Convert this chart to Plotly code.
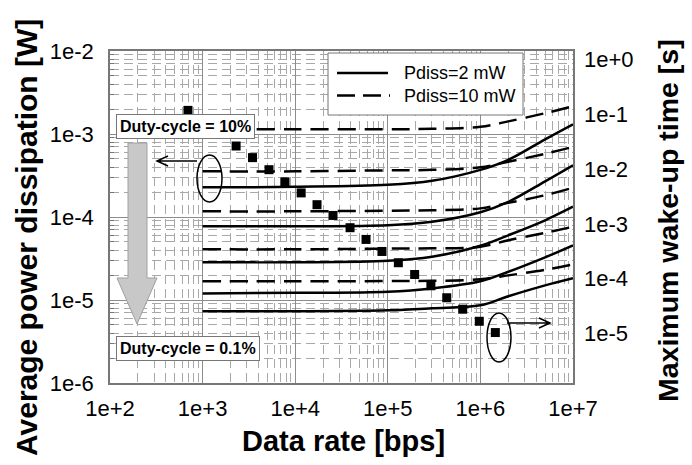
import plotly.graph_objects as go

# ---------------- data ----------------
data_rate = [1e3, 1e4, 1e5, 3e5, 1e6, 2e6, 5e6, 1e7]

# Pdiss = 2 mW (solid), duty cycles from 10% down to 0.1%
p2_dc10 = [2.28e-4, 2.31e-4, 2.44e-4, 2.73e-4, 3.70e-4, 4.89e-4, 8.63e-4, 1.31e-3]
p2_dc3 = [7.73e-5, 7.73e-5, 7.94e-5, 8.75e-5, 1.14e-4, 1.52e-4, 2.69e-4, 4.20e-4]
p2_dc1 = [2.85e-5, 2.85e-5, 2.97e-5, 3.32e-5, 4.50e-5, 6.02e-5, 9.13e-5, 1.33e-4]
p2_dc03 = [1.20e-5, 1.22e-5, 1.26e-5, 1.38e-5, 1.68e-5, 2.19e-5, 3.27e-5, 4.56e-5]
p2_dc01 = [7.31e-6, 7.31e-6, 7.50e-6, 7.94e-6, 8.63e-6, 1.11e-5, 1.50e-5, 1.83e-5]

# Pdiss = 10 mW (dashed)
p10_dc10 = [1.14e-3, 1.14e-3, 1.14e-3, 1.155e-3, 1.22e-3, 1.42e-3, 1.78e-3, 2.16e-3]
p10_dc3 = [3.55e-4, 3.55e-4, 3.65e-4, 3.70e-4, 3.97e-4, 4.63e-4, 5.77e-4, 7.01e-4]
p10_dc1 = [1.17e-4, 1.17e-4, 1.19e-4, 1.205e-4, 1.27e-4, 1.48e-4, 1.83e-4, 2.25e-4]
p10_dc03 = [4.08e-5, 4.08e-5, 4.16e-5, 4.20e-5, 4.38e-5, 5.24e-5, 6.45e-5, 7.62e-5]
p10_dc01 = [1.68e-5, 1.68e-5, 1.69e-5, 1.70e-5, 1.78e-5, 1.98e-5, 2.31e-5, 2.69e-5]

# Maximum wake-up time (squares, right axis)
wake_rate = [695, 2300, 3460, 5210, 7760, 11600, 17200, 25600, 39100, 58200,
             86500, 130000, 195000, 292000, 433000, 644000, 973000, 1450000]
wake_time = [0.117, 0.0262, 0.0161, 0.0097, 0.00582, 0.00366, 0.00223, 0.00142,
             0.000849, 0.000519, 0.000313, 0.000195, 0.000119, 7.41e-5, 4.48e-5,
             2.77e-5, 1.67e-5, 1.04e-5]

x_tickvals = [1e2, 1e3, 1e4, 1e5, 1e6, 1e7]
x_ticktext = ["1e+2", "1e+3", "1e+4", "1e+5", "1e+6", "1e+7"]
y_tickvals = [1e-6, 1e-5, 1e-4, 1e-3, 1e-2]
y_ticktext = ["1e-6", "1e-5", "1e-4", "1e-3", "1e-2"]
y2_tickvals = [1e-6, 1e-5, 1e-4, 1e-3, 1e-2, 1e-1, 1e0]
y2_ticktext = ["1e-6", "1e-5", "1e-4", "1e-3", "1e-2", "1e-1", "1e+0"]

solid_series = [p2_dc10, p2_dc3, p2_dc1, p2_dc03, p2_dc01]
dashed_series = [p10_dc10, p10_dc3, p10_dc1, p10_dc03, p10_dc01]

# ---------------- layout geometry ----------------
W, H = 692, 465
L, R, T, B = 110, 573, 51, 383
FONT = "Liberation Sans, Arial, sans-serif"


def px(X):
    return (X - L) / (R - L)


def py(Y):
    return (B - Y) / (B - T)


fig = go.Figure()

for s in dashed_series:
    fig.add_trace(go.Scatter(x=data_rate, y=s, mode="lines", showlegend=False,
                             line=dict(color="black", width=2.5, dash="18px,9px",
                                       shape="spline", smoothing=1.0)))
for s in solid_series:
    fig.add_trace(go.Scatter(x=data_rate, y=s, mode="lines", showlegend=False,
                             line=dict(color="black", width=2.5,
                                       shape="spline", smoothing=1.0)))

fig.add_trace(go.Scatter(x=wake_rate, y=wake_time, yaxis="y2", mode="markers",
                         showlegend=False,
                         marker=dict(symbol="square", size=9, color="black")))

x_minor = [m * 10 ** e for e in range(2, 7) for m in range(2, 10)]
y_minor = [m * 10.0 ** e for e in range(-6, -2) for m in range(2, 10)]

grid_major = "#8c8c8c"
grid_minor = "#a8a8a8"

shapes = []
# legend box
shapes.append(dict(type="rect", xref="paper", yref="paper", layer="above",
                   x0=px(328), x1=px(523), y0=py(115), y1=py(53),
                   fillcolor="white", line=dict(color="#777777", width=1)))
shapes.append(dict(type="line", xref="paper", yref="paper", layer="above",
                   x0=px(337), x1=px(388), y0=py(73), y1=py(73),
                   line=dict(color="black", width=2.5)))
shapes.append(dict(type="line", xref="paper", yref="paper", layer="above",
                   x0=px(337), x1=px(390), y0=py(95.5), y1=py(95.5),
                   line=dict(color="black", width=2.5, dash="18px,8px")))

# grey duty-cycle arrow
arrow_pts = [(128, 143), (147, 143), (147, 278), (157, 278), (137, 324),
             (117, 278), (128, 278)]
path = "M " + " L ".join(f"{px(a):.5f},{py(b):.5f}" for a, b in arrow_pts) + " Z"
shapes.append(dict(type="path", xref="paper", yref="paper", layer="above",
                   path=path, fillcolor="#c8c8c8",
                   line=dict(color="#a0a0a0", width=1)))

# ellipses
shapes.append(dict(type="circle", xref="paper", yref="paper", layer="above",
                   x0=px(197), x1=px(222), y0=py(202), y1=py(155),
                   line=dict(color="black", width=1.5)))
shapes.append(dict(type="circle", xref="paper", yref="paper", layer="above",
                   x0=px(487), x1=px(511), y0=py(362), y1=py(313),
                   line=dict(color="black", width=1.5)))


def seg_path(pts_list):
    out = []
    for pts in pts_list:
        out.append("M " + " L ".join(f"{px(a):.5f},{py(b):.5f}" for a, b in pts))
    return " ".join(out)


shapes.append(dict(type="path", xref="paper", yref="paper", layer="above",
                   path=seg_path([[(197, 161), (157, 161)],
                                  [(168, 156), (157, 161), (168, 166)]]),
                   line=dict(color="black", width=1.5)))
shapes.append(dict(type="path", xref="paper", yref="paper", layer="above",
                   path=seg_path([[(507, 323), (550, 323)],
                                  [(539, 318), (550, 323), (539, 328)]]),
                   line=dict(color="black", width=1.5)))


def note(X, Y, text, size, xanchor="center", **kw):
    return dict(xref="paper", yref="paper", x=px(X), y=py(Y), showarrow=False,
                xanchor=xanchor, yanchor="middle", text=text,
                font=dict(size=size, color="black", family=FONT), **kw)


annotations = [
    note(26, 238, "<b>Average power dissipation [W]</b>", 30, textangle=-90),
    note(668, 221, "<b>Maximum wake-up time [s]</b>", 28.5, textangle=-90),
    note(343, 441, "<b>Data rate [bps]</b>", 29),
    note(185, 126.5, "<b>Duty-cycle = 10%</b>", 16, bgcolor="white",
         bordercolor="#777777", borderwidth=1, borderpad=3),
    note(188, 348, "<b>Duty-cycle = 0.1%</b>", 16, bgcolor="white",
         bordercolor="#777777", borderwidth=1, borderpad=3),
    note(402, 73, "Pdiss=2 mW", 18, xanchor="left"),
    note(402, 95.5, "Pdiss=10 mW", 18, xanchor="left"),
]

fig.update_layout(
    width=W, height=H,
    margin=dict(l=L, r=W - R, t=T, b=H - B, pad=0),
    paper_bgcolor="white", plot_bgcolor="white",
    font=dict(family=FONT, color="black"),
    showlegend=False,
    xaxis=dict(type="log", range=[2, 7], tickvals=x_tickvals, ticktext=x_ticktext,
               tickfont=dict(size=22), ticks="", ticklabelstandoff=5,
               showgrid=True, gridcolor=grid_major, gridwidth=1,
               minor=dict(tickvals=x_minor, showgrid=True, gridcolor=grid_minor,
                          griddash="9px,5px", ticks=""),
               showline=True, mirror=True, linecolor="#777777", linewidth=1.5,
               zeroline=False),
    yaxis=dict(type="log", range=[-6, -2], tickvals=y_tickvals, ticktext=y_ticktext,
               tickfont=dict(size=22), ticks="", ticklabelstandoff=10,
               showgrid=True, gridcolor=grid_major, gridwidth=1,
               minor=dict(tickvals=y_minor, showgrid=True, gridcolor=grid_minor,
                          griddash="9px,5px", ticks="inside", ticklen=4,
                          tickcolor="#777777"),
               showline=True, mirror=True, linecolor="#777777", linewidth=1.5,
               zeroline=False),
    yaxis2=dict(type="log", overlaying="y", side="right", anchor="x",
                range=[-5.903, 0.151], tickvals=y2_tickvals, ticktext=y2_ticktext,
                tickfont=dict(size=22), ticks="", ticklabelstandoff=10,
                showgrid=False, showline=False, zeroline=False),
    shapes=shapes,
    annotations=annotations,
)

fig.write_html("out.html")
